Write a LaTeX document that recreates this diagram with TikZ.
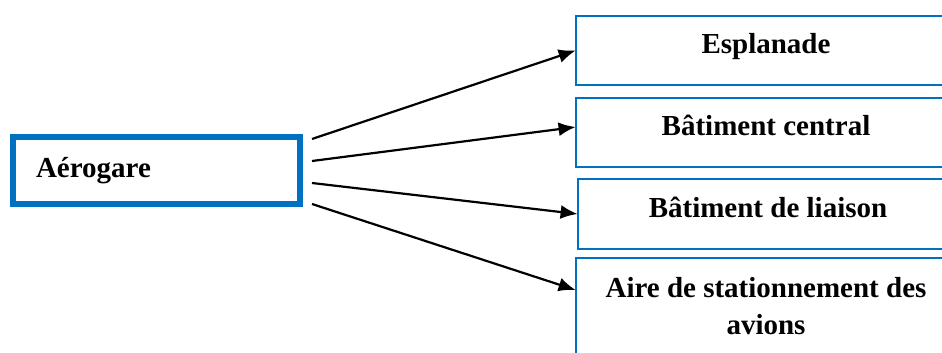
\documentclass[tikz,border=0pt]{standalone}
\usepackage{fontspec}
\setmainfont{Liberation Serif}
\usetikzlibrary{arrows.meta}
\definecolor{boxblue}{HTML}{0070C0}
\tikzset{
  mainbox/.style={draw=boxblue, line width=3pt, minimum width=143.5pt, minimum height=33.5pt, inner xsep=11.5pt, text width=120.5pt, align=left},
  partbox/.style={minimum width=190pt, minimum height=34.5pt, align=center},
  boxline/.style={draw=boxblue, line width=1pt},
  oneline/.style={text height=10pt, text depth=7pt},
  fanarrow/.style={-{Latex[length=8.5pt,width=7pt]}, line width=1.1pt}
}
\begin{document}
\begin{tikzpicture}[x=0.5pt, y=-0.5pt, font=\fontsize{14.5}{18.5}\selectfont\bfseries]
\useasboundingbox (0,0) rectangle (942,353);
\clip (0,0) rectangle (942,353);
\def\xleft{156.5};
\def\xright{766};
\def\xstart{312};

\node[mainbox] (aero) at (\xleft, 170.5) {A\'erogare};

\node[partbox, oneline] (espl) at (\xright, 50.5) {Esplanade};
\node[partbox, oneline] (central) at (\xright, 132.5) {B\^atiment central};
\node[partbox, oneline] (liaison) at (\xright+2, 214) {B\^atiment de liaison};
\node[partbox, minimum height=48pt] (aire) at (\xright, 306) {Aire de stationnement des\\avions};

% boxes run past the right edge
\foreach \b in {espl, central, liaison, aire}
  \draw[boxline] (\b.north west) rectangle ([xshift=30pt]\b.south east);

\coordinate (s1) at (\xstart, 139);
\coordinate (s2) at (\xstart, 161);
\coordinate (s3) at (\xstart, 183);
\coordinate (s4) at (\xstart, 204);

\draw[fanarrow] (s1) -- (espl.west);
\draw[fanarrow] (s2) -- ([yshift=2.75pt]central.west);
\draw[fanarrow] (s3) -- (liaison.west);
\draw[fanarrow] (s4) -- ([yshift=8pt]aire.west);

\end{tikzpicture}
\end{document}
